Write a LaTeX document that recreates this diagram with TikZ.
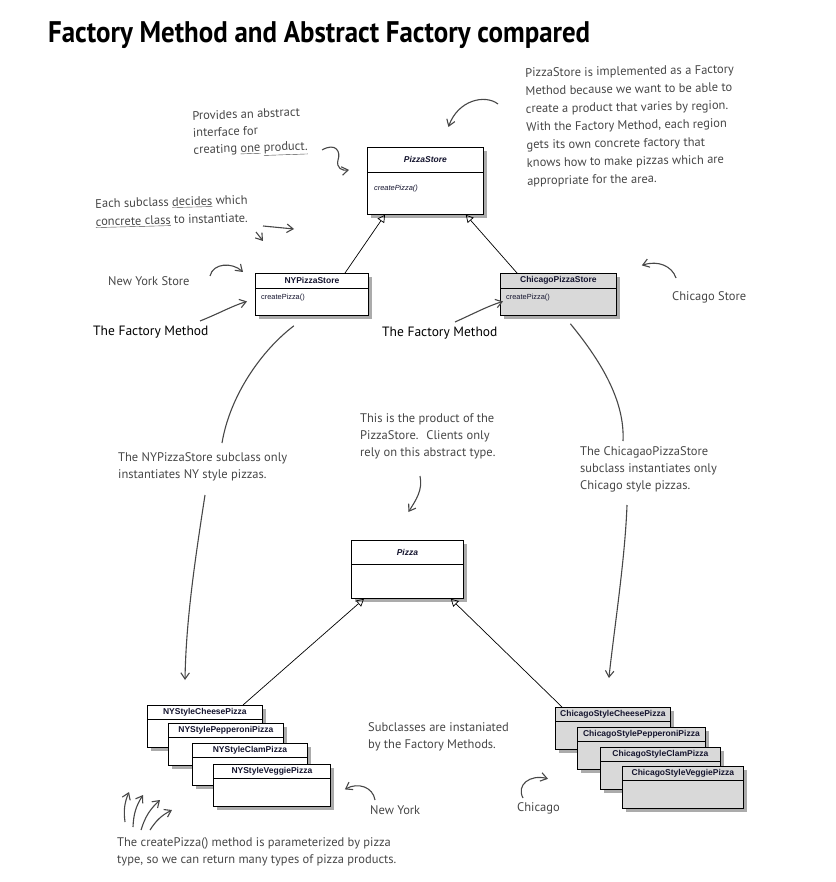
\documentclass[tikz,border=0pt]{standalone}
\usepackage{fontspec}
\setmainfont{Liberation Sans}
\newfontfamily\handfont{PT Sans}
\newfontfamily\titlefont{PT Sans}
\usetikzlibrary{positioning,arrows.meta,calc,shadows}
\definecolor{cNote}{HTML}{474747}
\definecolor{cChi}{HTML}{D9D9D9}
\definecolor{cName}{HTML}{14142E}
\tikzset{
  cls/.style={draw,line width=0.8pt,fill=white,anchor=north west,inner sep=0pt,
    drop shadow={shadow xshift=4pt,shadow yshift=-4pt,fill=black!60,opacity=0.55}},
  chi/.style={cls,fill=cChi},
  hdr/.style={anchor=center,inner sep=0pt,text=cName,font=\bfseries\fontsize{8.5}{10}\selectfont},
  meth/.style={anchor=west,inner sep=0pt,text=cName,font=\fontsize{7.4}{9}\selectfont},
  sep/.style={line width=0.8pt},
  note/.style={anchor=north west,align=left,inner sep=0pt,text=cNote,font=\handfont\fontsize{12.5}{17}\selectfont},
  fm/.style={note,text=black,font=\handfont\fontsize{13.5}{17}\selectfont},
  inh/.style={-{Triangle[open,length=2.6mm,width=2.8mm]},line width=0.7pt},
  hand/.style={-{Straight Barb[length=2.2mm,width=3mm]},line width=1.1pt,draw=cNote},
  hline/.style={line width=1.1pt,draw=cNote}}
\begin{document}
\begin{tikzpicture}[x=1pt,y=-1pt]
\useasboundingbox (0,0) rectangle (835,882);
\node[anchor=north west,inner sep=0pt] (title) at (48,21)
  {\resizebox{542pt}{21pt}{\titlefont\bfseries Factory Method and Abstract Factory compared}};

% creators
\node[cls,minimum width=116pt,minimum height=67pt] (pizzaStore) at (367,147) {};
\node[hdr,font=\bfseries\itshape\fontsize{8.5}{10}\selectfont] at ($(pizzaStore.north)+(0,12.5)$) {PizzaStore};
\draw[sep] ($(pizzaStore.north west)+(0,25)$) -- ($(pizzaStore.north east)+(0,25)$);
\node[meth,font=\itshape\fontsize{7.4}{9}\selectfont] at ($(pizzaStore.north west)+(7,42)$) {createPizza()};

\node[cls,minimum width=113pt,minimum height=42pt] (nyStore) at (255,273) {};
\node[hdr] at ($(nyStore.north)+(0,7.5)$) {NYPizzaStore};
\draw[sep] ($(nyStore.north west)+(0,15)$) -- ($(nyStore.north east)+(0,15)$);
\node[meth] at ($(nyStore.north west)+(6,25)$) {createPizza()};

\node[chi,minimum width=116pt,minimum height=42pt] (chiStore) at (500,273) {};
\node[hdr] at ($(chiStore.north)+(0,7.5)$) {ChicagoPizzaStore};
\draw[sep] ($(chiStore.north west)+(0,15)$) -- ($(chiStore.north east)+(0,15)$);
\node[meth] at ($(chiStore.north west)+(6,25)$) {createPizza()};

\draw[inh] ($(nyStore.north west)+(90,0)$) -- ($(pizzaStore.south west)+(18,0)$);
\draw[inh] ($(chiStore.north west)+(17,0)$) -- ($(pizzaStore.south east)+(-18,0)$);

% product
\node[cls,minimum width=112pt,minimum height=58pt] (pizza) at (351,540) {};
\node[hdr,font=\bfseries\itshape\fontsize{8.5}{10}\selectfont] at ($(pizza.north)+(0,12)$) {Pizza};
\draw[sep] ($(pizza.north west)+(0,24)$) -- ($(pizza.north east)+(0,24)$);

\foreach \nm/\x/\y/\w in {Cheese/147/705/115,Pepperoni/168/723/115,Clam/192/743/115,Veggie/213/764/117}{
  \node[cls,minimum width=\w pt,minimum height=42pt] (ny\nm) at (\x,\y) {};
  \node[hdr] at ($(ny\nm.north)+(0,7)$) {NYStyle\nm Pizza};
  \draw[sep] ($(ny\nm.north west)+(0,14)$) -- ($(ny\nm.north east)+(0,14)$);
}
\foreach \nm/\x/\y/\w in {Cheese/555/707/115,Pepperoni/577/727/128,Clam/600/747/120,Veggie/622/766/121}{
  \node[chi,minimum width=\w pt,minimum height=42pt] (chi\nm) at (\x,\y) {};
  \node[hdr] at ($(chi\nm.north)+(0,7)$) {ChicagoStyle\nm Pizza};
  \draw[sep] ($(chi\nm.north west)+(0,14)$) -- ($(chi\nm.north east)+(0,14)$);
}
\draw[inh] ($(nyCheese.north west)+(96,0)$) -- ($(pizza.south west)+(13,0)$);
\draw[inh] ($(chiCheese.north west)+(7,0)$) -- ($(pizza.south east)+(-13,0)$);

% notes
\node[note,rotate=2] (provNote) at (192,111) {Provides an abstract\\interface for\\creating \underline{one} \underline{product.}};
\node[note,rotate=1.5,font=\handfont\fontsize{12.5}{18}\selectfont] (decideNote) at (95,199) {Each subclass \underline{decides} which\\\underline{concrete class} to instantiate.};
\node[note,rotate=1,font=\handfont\fontsize{12.5}{18}\selectfont] (whyNote) at (525,68) {PizzaStore is implemented as a Factory\\Method because we want to be able to\\create a product that varies by region.\\With the Factory Method, each region\\gets its own concrete factory that\\knows how to make pizzas which are\\appropriate for the area.};
\node[note,anchor=west] (nyStoreNote) at (108,281) {New York Store};
\node[note,anchor=west] (chiStoreNote) at (672,297) {Chicago Store};
\node[fm,anchor=west] (fmNY) at (93,332) {The Factory Method};
\node[fm,anchor=west] (fmChi) at (382,333) {The Factory Method};
\node[note] (nyOnlyNote) at (118,452) {The NYPizzaStore subclass only\\instantiates NY style pizzas.};
\node[note] (chiOnlyNote) at (580,446) {The ChicagaoPizzaStore\\subclass instantiates only\\Chicago style pizzas.};
\node[note] (prodNote) at (360,413) {This is the product of the\\PizzaStore.~ Clients only\\rely on this abstract type.};
\node[note] (subNote) at (368,722) {Subclasses are instaniated\\by the Factory Methods.};
\node[note,anchor=west] (nyNote) at (370,810) {New York};
\node[note,anchor=west] (chiNote) at (517,808) {Chicago};
\node[note] (paramNote) at (117,837) {The createPizza() method is parameterized by pizza\\type, so we can return many types of pizza products.};

% hand arrows
\coordinate (provTail) at (322,150);
\draw[hand] (provTail) .. controls (336,142) and (341,152) .. (338,160) .. controls (336,168) and (342,171) .. ($(pizzaStore.west)+(-18,-11)$);
\draw[hand] (263,226) -- (294,229);
\draw[hand] (256,232) -- (263,241);
\coordinate (whyTail) at (498,104);
\draw[hand] (whyTail) .. controls (485,94) and (458,100) .. ($(pizzaStore.north)+(23,-20)$);
\coordinate (nyStoreTail) at (210,276);
\draw[hand] (nyStoreTail) .. controls (213,263) and (232,262) .. ($(nyStore.north west)+(-12,-1)$);
\coordinate (fmNYTail) at (200,321);
\draw[hand] (fmNYTail) .. controls (220,313) and (232,306) .. ($(nyStore.west)+(-8,7)$);
\coordinate (fmChiTail) at (455,322);
\draw[hand] (fmChiTail) .. controls (475,313) and (488,306) .. ($(chiStore.west)+(3,7)$);
\coordinate (chiStoreTail) at (676,278);
\draw[hand] (chiStoreTail) .. controls (672,266) and (658,260) .. ($(chiStore.east)+(25,-29)$);
\coordinate (nyUpEnd) at (222,443);
\draw[hline] ($(nyStore.south)+(-18,10)$) .. controls (262,350) and (230,395) .. (nyUpEnd);
\coordinate (nyLowTail) at (205,495);
\draw[hand] (nyLowTail) .. controls (195,560) and (186,620) .. ($(nyCheese.north west)+(38,-25)$);
\coordinate (chiUpEnd) at (623,441);
\draw[hline] ($(chiStore.south)+(12,8)$) .. controls (600,360) and (625,400) .. (chiUpEnd);
\coordinate (chiLowTail) at (627,505);
\draw[hand] (chiLowTail) .. controls (625,560) and (614,630) .. ($(chiCheese.north)+(-4,-29)$);
\coordinate (prodTail) at (420,476);
\draw[hand] (prodTail) .. controls (423,490) and (416,500) .. ($(pizza.north)+(1,-28)$);
\coordinate (nyTail) at (375,800);
\draw[hand] (nyTail) .. controls (373,787) and (358,782) .. ($(nyVeggie.east)+(14,4)$);
\coordinate (chiTail) at (523,798);
\draw[hand] (chiTail) .. controls (516,785) and (530,774) .. ($(chiCheese.south west)+(-7,29)$);
\foreach \a/\b/\c/\d in {8/-15/12/-45,16/-10/26/-42,24/-7/43/-37,33/-7/55/-27}
  \draw[hand] ($(paramNote.north west)+(\a,\b)$) to[bend left=15] ($(paramNote.north west)+(\c,\d)$);
\end{tikzpicture}
\end{document}
